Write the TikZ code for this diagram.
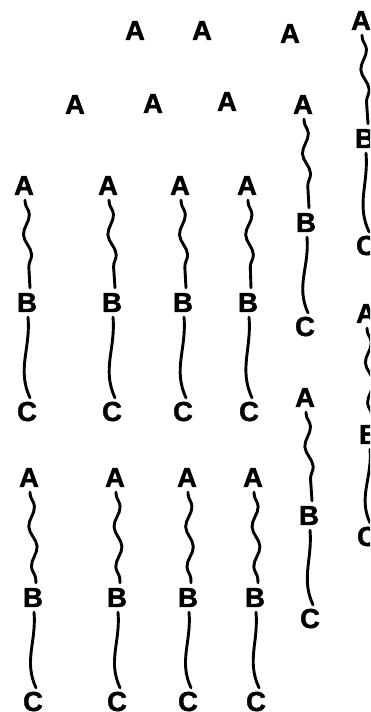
\documentclass[tikz,border=0pt]{standalone}
\usepackage{fontspec}
\setmainfont{Liberation Sans}
\newfontfamily\heavyfont{Liberation Sans}[BoldFeatures={FakeBold=1.6}]
\usetikzlibrary{decorations.pathmorphing}
\begin{document}
\begin{tikzpicture}[x=1pt,y=1pt,
  lbl/.style={font=\heavyfont\bfseries\fontsize{27.5}{27.5}\selectfont, inner sep=0pt, text height=20pt, text depth=0pt},
  wavy/.style={line width=2.9pt, line cap=round, decorate,
    decoration={snake, amplitude=3.5pt, segment length=40pt, pre length=2pt, post length=3pt}},
  sline/.style={line width=2.9pt, line cap=round}]
\useasboundingbox (0,0) rectangle (370,712);
\clip (0,0) rectangle (370,712);
% top row of lone A's
\node[lbl] (t1) at (135,682) {A};
\node[lbl] (t2) at (202,682) {A};
\node[lbl] (t3) at (290,679) {A};
% second row of lone A's
\node[lbl] (s1) at (75,608) {A};
\node[lbl] (s2) at (153,609) {A};
\node[lbl] (s3) at (227,611) {A};
% column 5 upper
\node[lbl] (pa1) at (303,608) {A};
\node[lbl] (pb1) at (306,490) {B};
\node[lbl] (pc1) at (305,386) {C};
% column 5 lower
\node[lbl] (pa2) at (305,315) {A};
\node[lbl] (pb2) at (309,197) {B};
\node[lbl] (pc2) at (310,94) {C};
% right column upper
\node[lbl] (qa1) at (361,692) {A};
\node[lbl] (qb1) at (365,574) {B};
\node[lbl] (qc1) at (366,467) {C};
% right column lower
\node[lbl] (qa2) at (366,399) {A};
\node[lbl] (qb2) at (369,278) {B};
\node[lbl] (qc2) at (367,176) {C};
% grid row 1
\node[lbl] (ga1) at (24,527) {A};  \node[lbl] (gb1) at (27,410) {B};  \node[lbl] (gc1) at (27,301) {C};
\node[lbl] (ga2) at (108,527) {A}; \node[lbl] (gb2) at (112,410) {B}; \node[lbl] (gc2) at (112,301) {C};
\node[lbl] (ga3) at (180,527) {A}; \node[lbl] (gb3) at (183,410) {B}; \node[lbl] (gc3) at (183,301) {C};
\node[lbl] (ga4) at (247,527) {A}; \node[lbl] (gb4) at (248,410) {B}; \node[lbl] (gc4) at (249,301) {C};
% grid row 2
\node[lbl] (ha1) at (29,235) {A};  \node[lbl] (hb1) at (33,115) {B};  \node[lbl] (hc1) at (33,11) {C};
\node[lbl] (ha2) at (115,235) {A}; \node[lbl] (hb2) at (117,115) {B}; \node[lbl] (hc2) at (117,11) {C};
\node[lbl] (ha3) at (187,235) {A}; \node[lbl] (hb3) at (188,115) {B}; \node[lbl] (hc3) at (188,11) {C};
\node[lbl] (ha4) at (253,235) {A}; \node[lbl] (hb4) at (255,115) {B}; \node[lbl] (hc4) at (256,11) {C};
% connectors
\foreach \a/\b/\c in {pa1/pb1/pc1, pa2/pb2/pc2, qa1/qb1/qc1, qa2/qb2/qc2,
  ga1/gb1/gc1, ga2/gb2/gc2, ga3/gb3/gc3, ga4/gb4/gc4,
  ha1/hb1/hc1, ha2/hb2/hc2, ha3/hb3/hc3, ha4/hb4/hc4}{
  \draw[wavy] ([xshift=1pt,yshift=-5pt]\a.south) -- ([xshift=3pt,yshift=4pt]\b.north);
  \draw[sline] ([xshift=1pt,yshift=-5pt]\b.south) to[out=-85,in=115] ([xshift=3pt,yshift=3pt]\c.north);
}
\end{tikzpicture}
\end{document}
